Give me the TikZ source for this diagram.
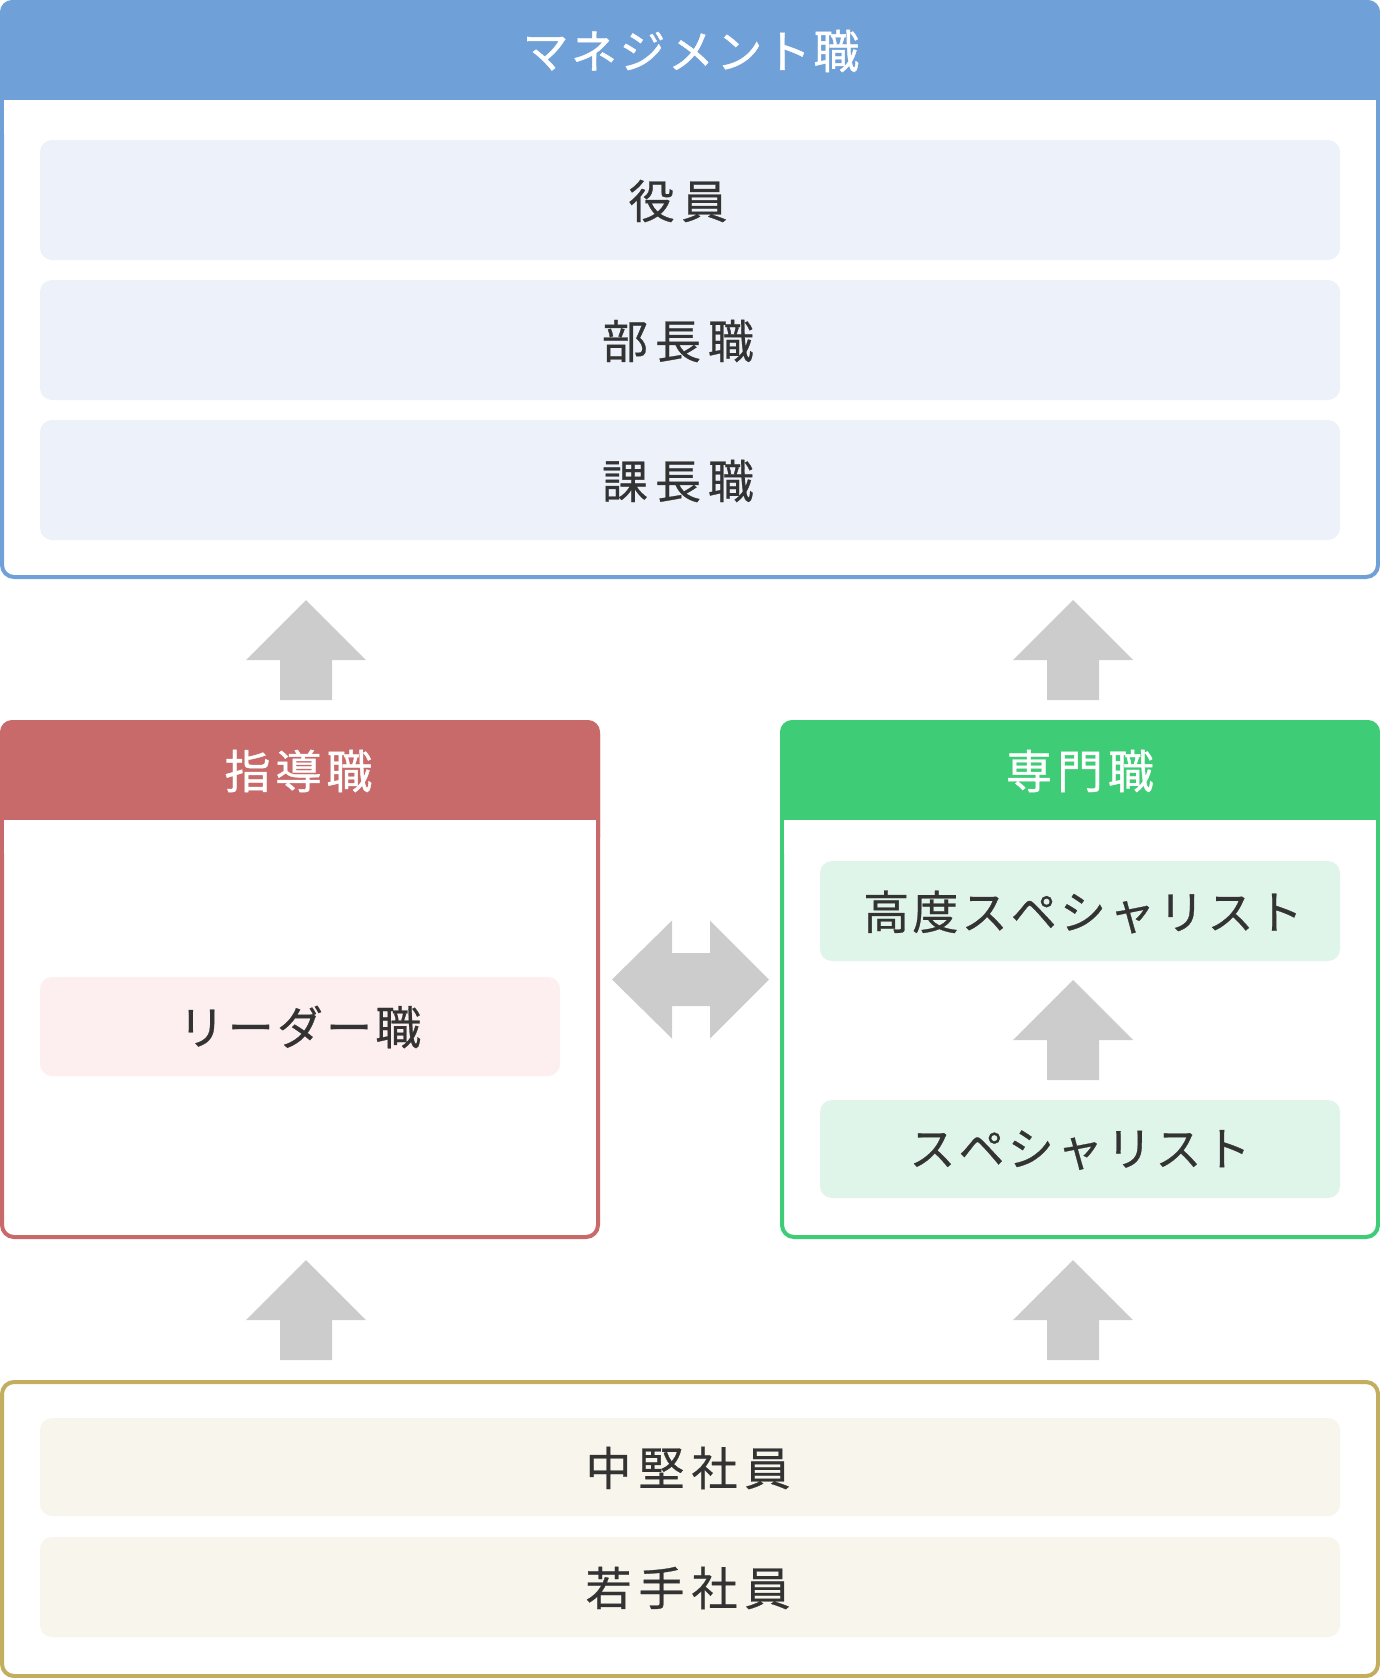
\documentclass[tikz,border=0pt]{standalone}
\usepackage{fontspec}
\setmainfont{Noto Sans CJK JP}
\newfontfamily\jpmed{Noto Sans CJK JP}[FakeBold=0.6]
\newfontfamily\jphead{Noto Sans CJK JP}[FakeBold=0.9]
\definecolor{blueH}{HTML}{6FA0D8}
\definecolor{blueL}{HTML}{EDF2FA}
\definecolor{redH}{HTML}{C86A6A}
\definecolor{redL}{HTML}{FDEFEF}
\definecolor{greenH}{HTML}{3ECC77}
\definecolor{greenL}{HTML}{E0F5EA}
\definecolor{goldH}{HTML}{C2AE5E}
\definecolor{goldL}{HTML}{F8F6EC}
\definecolor{arrowgray}{HTML}{CCCCCC}
\definecolor{txt}{HTML}{333333}
\newcommand{\jk}{\kern7pt}
\newcommand{\jq}{\kern3.2pt}
\newcommand{\jh}{\kern2.5pt}
\newcommand{\jhh}{\kern5pt}
\tikzset{
  frame/.style={line width=4pt, fill=white, rounded corners=12pt},
  ibox/.style={rounded corners=12pt, inner sep=0pt, outer sep=0pt, draw=none},
  itext/.style={text=txt, font=\jpmed\fontsize{46}{50}\selectfont, inner sep=0pt},
  htext/.style={text=white, font=\jphead\fontsize{46}{50}\selectfont, inner sep=0pt},
  uparr/.pic={\fill[arrowgray] (0,0) -- (60,60) -- (26,60) -- (26,100) -- (-26,100) -- (-26,60) -- (-60,60) -- cycle;}
}
\begin{document}
\begin{tikzpicture}[x=1pt,y=-1pt]
\useasboundingbox (0,0) rectangle (1380,1678);
% ---------- management ----------
\draw[frame, draw=blueH] (2,2) rectangle (1378,577);
\fill[blueH, rounded corners=12pt] (0,0) rectangle (1380,130);
\fill[white] (4,100) rectangle (1376,134);
\node[htext] (mgmt) at (691,51) {マ\jh ネ\jh ジ\jh メ\jh ン\jh ト\jh 職};
\node[ibox, fill=blueL, minimum width=1300pt, minimum height=120pt] (b1) at (690,200) {};
\node[ibox, fill=blueL, minimum width=1300pt, minimum height=120pt] (b2) at (690,340) {};
\node[ibox, fill=blueL, minimum width=1300pt, minimum height=120pt] (b3) at (690,480) {};
\node[itext] (t1) at (678,201) {役\jk 員};
\node[itext] (t2) at (678,341) {部\jk 長\jk 職};
\node[itext] (t3) at (678,481) {課\jk 長\jk 職};
% ---------- arrows up to management ----------
\pic at (306,600) {uparr};
\pic at (1073,600) {uparr};
% ---------- leader ----------
\draw[frame, draw=redH] (2,722) rectangle (598,1237);
\fill[redH, rounded corners=12pt] (0,720) rectangle (600,850);
\fill[white] (4,820) rectangle (596,854);
\node[htext] (lead) at (298.5,771) {指\jhh 導\jhh 職};
\node[ibox, fill=redL, minimum width=520pt, minimum height=99pt] (rb) at (300,1026.5) {};
\node[itext] (rt) at (300,1027) {リ\jq ー\jq ダ\jq ー\jq 職};
% ---------- specialist ----------
\draw[frame, draw=greenH] (782,722) rectangle (1378,1237);
\fill[greenH, rounded corners=12pt] (780,720) rectangle (1380,850);
\fill[white] (784,820) rectangle (1376,854);
\node[htext] (spec) at (1080,771) {専\jhh 門\jhh 職};
\node[ibox, fill=greenL, minimum width=520pt, minimum height=100pt] (g1) at (1080,911) {};
\node[ibox, fill=greenL, minimum width=520pt, minimum height=98pt] (g2) at (1080,1149) {};
\node[itext] (gt1) at (1083,912) {高\jq 度\jq ス\jq ペ\jq シ\jq ャ\jq リ\jq ス\jq ト};
\node[itext] (gt2) at (1080,1150) {ス\jq ペ\jq シ\jq ャ\jq リ\jq ス\jq ト};
\pic at (1073,980) {uparr};
% ---------- double arrow ----------
\fill[arrowgray] (612,979.5) -- (672,920.5) -- (672,953) -- (710,953) -- (710,920.5) -- (769,979.5)
  -- (710,1038.5) -- (710,1006) -- (672,1006) -- (672,1038.5) -- cycle;
% ---------- arrows up from staff ----------
\pic at (306,1260) {uparr};
\pic at (1073,1260) {uparr};
% ---------- staff ----------
\draw[frame, draw=goldH] (2,1382) rectangle (1378,1676);
\node[ibox, fill=goldL, minimum width=1300pt, minimum height=98pt] (s1) at (690,1467) {};
\node[ibox, fill=goldL, minimum width=1300pt, minimum height=100pt] (s2) at (690,1587) {};
\node[itext] (st1) at (688,1468) {中\jk 堅\jk 社\jk 員};
\node[itext] (st2) at (688,1588) {若\jk 手\jk 社\jk 員};
\end{tikzpicture}
\end{document}
